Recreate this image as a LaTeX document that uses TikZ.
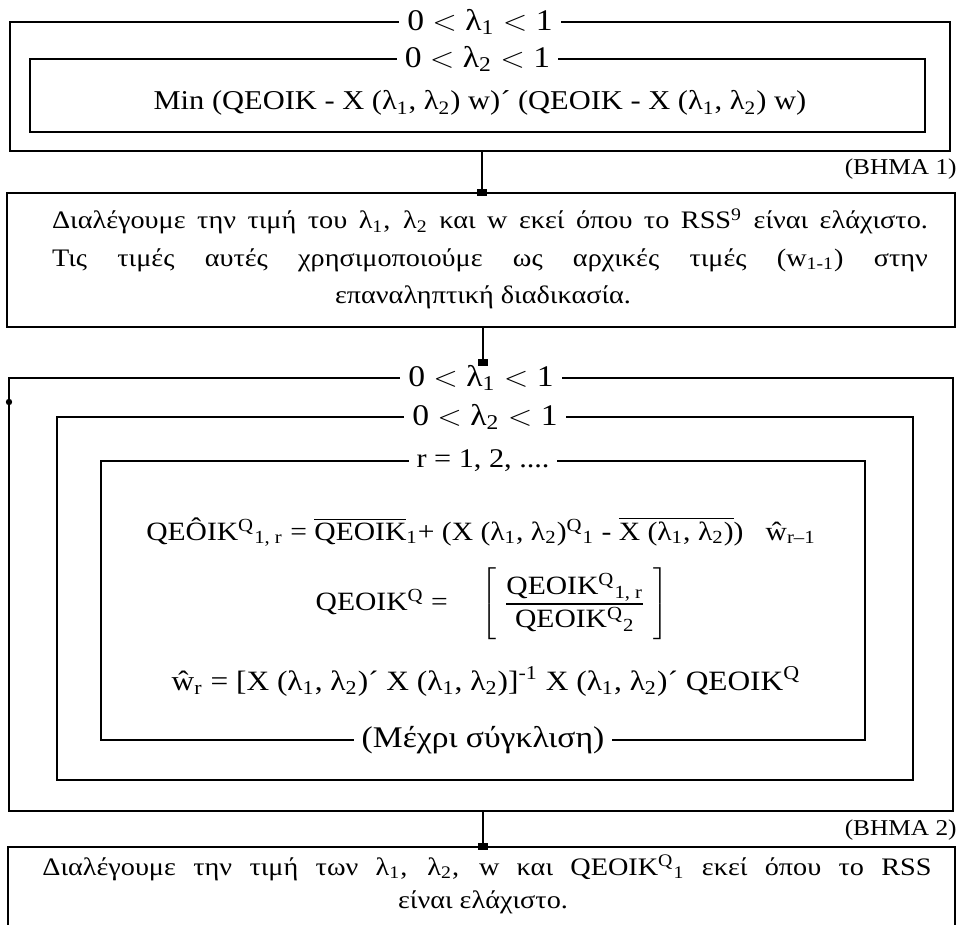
\documentclass[tikz,border=0pt]{standalone}
\usepackage{graphicx}
\usepackage{fontspec}
\setmainfont{Liberation Serif}
\usetikzlibrary{fit,arrows.meta}
\newcommand{\lsub}[1]{\textsubscript{#1}}
\newcommand{\lsup}[1]{\textsuperscript{#1}}
\newcommand{\wx}[1]{\scalebox{1.12}[1]{#1}}
\newcommand{\jline}[2]{\scalebox{1.12}[1]{\makebox[#1][s]{#2}}}
\begin{document}
\begin{tikzpicture}[x=0.5pt,y=-0.5pt,
  frame/.style={draw, line width=1.3pt, inner sep=0pt, outer sep=0pt},
  lab/.style={fill=white, inner xsep=4pt, inner ysep=1pt, font=\fontsize{15}{17}\selectfont},
  latn/.style={font=\fontsize{13.6}{16}\selectfont, inner sep=0pt, anchor=base},
  eqn/.style={font=\fontsize{13.2}{16}\selectfont, inner sep=0pt, anchor=base},
  grk/.style={font=\fontsize{12.6}{15}\selectfont, inner sep=0pt, anchor=base},
  conn/.style={line width=0.8pt, shorten >=-1.5pt, -{Square[length=3.5pt,width=5pt]}},
  bhma/.style={anchor=east, font=\fontsize{11.3}{13}\selectfont, inner sep=0pt}]
\useasboundingbox (0,0) rectangle (958,925);
% Box 1
\node[frame, fit={(10,22) (950,151)}] (b1o) {};
\node[frame, fit={(30,59) (925,132)}] (b1i) {};
\node[lab] (l1a) at (b1o.north) {\wx{0 $<$ λ\lsub{1} $<$ 1}};
\node[lab] (l1b) at (b1i.north) {\wx{0 $<$ λ\lsub{2} $<$ 1}};
\node[latn] (min) at (480,110) {\wx{Min (QEOIK - X (λ\lsub{1}, λ\lsub{2}) w)´ (QEOIK - X (λ\lsub{1}, λ\lsub{2}) w)}};
\node[bhma] (s1) at (957,169) {\wx{(BHMA 1)}};
% Box 2
\node[frame, fit={(7,193) (955,327)}] (b2) {};
\node[grk] (t2a) at (490,229) {\jline{391pt}{Διαλέγουμε την τιμή του λ\lsub{1}, λ\lsub{2} και w εκεί όπου το RSS\lsup{9} είναι ελάχιστο.}};
\node[grk] (t2b) at (490,266) {\jline{391pt}{Τις τιμές αυτές χρησιμοποιούμε ως αρχικές τιμές (w\lsub{1-1}) στην}};
\node[grk] (t2c) at (483,303) {\wx{επαναληπτική διαδικασία.}};
% Box 3
\node[frame, fit={(9,378) (953,811)}] (b3o) {};
\node[frame, fit={(57,417) (913,780)}] (b3m) {};
\node[frame, fit={(101,461) (865,740)}] (b3i) {};
\node[lab] (l3a) at (b3o.north) {\wx{0 $<$ λ\lsub{1} $<$ 1}};
\node[lab] (l3b) at (b3m.north) {\wx{0 $<$ λ\lsub{2} $<$ 1}};
\node[lab, font=\fontsize{13.5}{16}\selectfont] (l3c) at (b3i.north) {\wx{r = 1, 2, ....}};
\node[lab] (l3d) at (b3i.south) {\wx{(Μέχρι σύγκλιση)}};
\fill (9,402) circle[radius=1.6pt];
\node[eqn] (e1) at (481,540) {\wx{QEÔIK\lsup{Q}\lsub{1, r} = $\overline{\mbox{QEOIK}}$\lsub{1}+ (X (λ\lsub{1}, λ\lsub{2})\lsup{Q}\lsub{1} - $\overline{\mbox{X (λ\lsub{1}, λ\lsub{2})}}$)~~ ŵ\lsub{r–1}}};
\node[eqn] (e2) at (492,610) {\wx{QEOIK\lsup{Q} =\hspace{15pt}$\left[\rule[-14pt]{0pt}{36pt}\;{\mbox{QEOIK\lsup{Q}\lsub{1, r}}\above 1pt \mbox{QEOIK\lsup{Q}\lsub{2}}}\;\right]$}};
\node[eqn, font=\fontsize{14}{16}\selectfont] (e3) at (486,690) {\wx{ŵ\lsub{r} = [X (λ\lsub{1}, λ\lsub{2})´ X (λ\lsub{1}, λ\lsub{2})]\lsup{-1} X (λ\lsub{1}, λ\lsub{2})´ QEOIK\lsup{Q}}};
\node[bhma] (s2) at (957,830) {\wx{(BHMA 2)}};
% Box 4
\node[frame, fit={(8,847) (955,945)}] (b4) {};
\node[grk] (t4a) at (487,875) {\jline{397pt}{Διαλέγουμε την τιμή των λ\lsub{1}, λ\lsub{2}, w και QEOIK\lsup{Q}\lsub{1} εκεί όπου το RSS}};
\node[grk] (t4b) at (483,908) {\wx{είναι ελάχιστο.}};
% connectors
\draw[conn] ([xshift=1pt]b1o.south) -- ([xshift=1pt]b1o.south |- b2.north);
\draw[conn] ([xshift=1pt]b2.south) -- ([xshift=1pt]b2.south |- l3a.north);
\draw[conn] ([xshift=1pt]b3o.south) -- ([xshift=1pt]b3o.south |- b4.north);
\end{tikzpicture}
\end{document}
